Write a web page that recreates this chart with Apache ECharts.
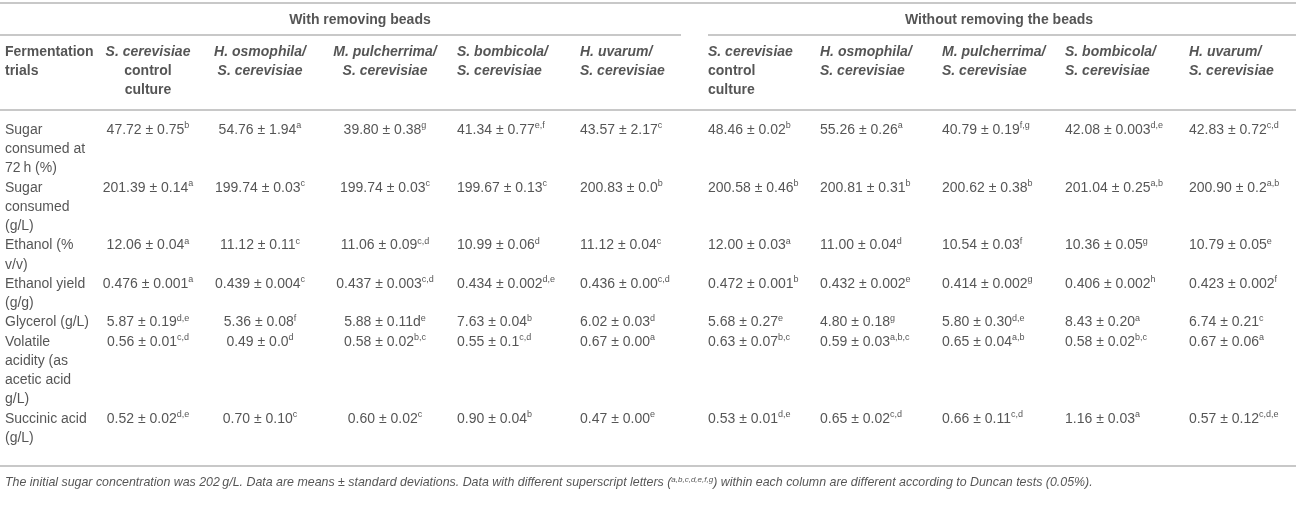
<!DOCTYPE html>
<html>
<head>
<meta charset="utf-8">
<script src="https://cdn.jsdelivr.net/npm/echarts@6/dist/echarts.min.js"></script>
<style>
  html, body { margin: 0; padding: 0; background: #fff; }
  #fermTable { width: 1296px; height: 505px; }
</style>
</head>
<body>
<div id="fermTable"></div>
<script>
// row labels, wrapped the same way as in the printed table
var trialLabels = [
    ['Sugar', 'consumed at', '72\u2009h (%)'],
    ['Sugar', 'consumed', '(g/L)'],
    ['Ethanol (%', 'v/v)'],
    ['Ethanol yield', '(g/g)'],
    ['Glycerol (g/L)'],
    ['Volatile', 'acidity (as', 'acetic acid', 'g/L)'],
    ['Succinic acid', '(g/L)']
];

var groupTitles = ['With removing beads', 'Without removing the beads'];
var cornerHeader = ['Fermentation', 'trials'];

// each header line: [text, italic]
var strainHeaders = [
    [['S. cerevisiae', true], ['control', false], ['culture', false]],
    [['H. osmophila/', true], ['S. cerevisiae', true]],
    [['M. pulcherrima/', true], ['S. cerevisiae', true]],
    [['S. bombicola/', true], ['S. cerevisiae', true]],
    [['H. uvarum/', true], ['S. cerevisiae', true]]
];

// mean ± sd, with removing beads
var removedValues = [
    ['47.72 ± 0.75', '54.76 ± 1.94', '39.80 ± 0.38', '41.34 ± 0.77', '43.57 ± 2.17'],
    ['201.39 ± 0.14', '199.74 ± 0.03', '199.74 ± 0.03', '199.67 ± 0.13', '200.83 ± 0.0'],
    ['12.06 ± 0.04', '11.12 ± 0.11', '11.06 ± 0.09', '10.99 ± 0.06', '11.12 ± 0.04'],
    ['0.476 ± 0.001', '0.439 ± 0.004', '0.437 ± 0.003', '0.434 ± 0.002', '0.436 ± 0.00'],
    ['5.87 ± 0.19', '5.36 ± 0.08', '5.88 ± 0.11d', '7.63 ± 0.04', '6.02 ± 0.03'],
    ['0.56 ± 0.01', '0.49 ± 0.0', '0.58 ± 0.02', '0.55 ± 0.1', '0.67 ± 0.00'],
    ['0.52 ± 0.02', '0.70 ± 0.10', '0.60 ± 0.02', '0.90 ± 0.04', '0.47 ± 0.00']
];
var removedLetters = [
    ['b', 'a', 'g', 'e,f', 'c'],
    ['a', 'c', 'c', 'c', 'b'],
    ['a', 'c', 'c,d', 'd', 'c'],
    ['a', 'c', 'c,d', 'd,e', 'c,d'],
    ['d,e', 'f', 'e', 'b', 'd'],
    ['c,d', 'd', 'b,c', 'c,d', 'a'],
    ['d,e', 'c', 'c', 'b', 'e']
];

// mean ± sd, without removing the beads
var keptValues = [
    ['48.46 ± 0.02', '55.26 ± 0.26', '40.79 ± 0.19', '42.08 ± 0.003', '42.83 ± 0.72'],
    ['200.58 ± 0.46', '200.81 ± 0.31', '200.62 ± 0.38', '201.04 ± 0.25', '200.90 ± 0.2'],
    ['12.00 ± 0.03', '11.00 ± 0.04', '10.54 ± 0.03', '10.36 ± 0.05', '10.79 ± 0.05'],
    ['0.472 ± 0.001', '0.432 ± 0.002', '0.414 ± 0.002', '0.406 ± 0.002', '0.423 ± 0.002'],
    ['5.68 ± 0.27', '4.80 ± 0.18', '5.80 ± 0.30', '8.43 ± 0.20', '6.74 ± 0.21'],
    ['0.63 ± 0.07', '0.59 ± 0.03', '0.65 ± 0.04', '0.58 ± 0.02', '0.67 ± 0.06'],
    ['0.53 ± 0.01', '0.65 ± 0.02', '0.66 ± 0.11', '1.16 ± 0.03', '0.57 ± 0.12']
];
var keptLetters = [
    ['b', 'a', 'f,g', 'd,e', 'c,d'],
    ['b', 'b', 'b', 'a,b', 'a,b'],
    ['a', 'd', 'f', 'g', 'e'],
    ['b', 'e', 'g', 'h', 'f'],
    ['e', 'g', 'd,e', 'a', 'c'],
    ['b,c', 'a,b,c', 'a,b', 'b,c', 'a'],
    ['d,e', 'c,d', 'c,d', 'a', 'c,d,e']
];

var footnoteParts = [
    'The initial sugar concentration was 202\u2009g/L. Data are means ± standard deviations. Data with different superscript letters (',
    'a,b,c,d,e,f,g',
    ') within each column are different according to Duncan tests (0.05%).'
];

// page geometry (pixels in the 1296 x 505 frame)
var W = 1296, H = 505;
var labelX = 5;
var removedCols = [
    { x: 148, align: 'center' }, { x: 260, align: 'center' }, { x: 385, align: 'center' },
    { x: 457, align: 'left' }, { x: 580, align: 'left' }
];
var keptCols = [708, 820, 942, 1065, 1189].map(function (x) { return { x: x, align: 'left' }; });
var titleY = 20, headY = 52, bodyY = 130, lineStep = 19.25, footY = 483;
var ruleYs = { top: 2.5, group: 35, head: 110, bottom: 466 };
var groupCenters = [360, 999];

function cell(x, y, align, text) {
    return { value: [x, y], text: text, label: { align: align } };
}

var cells = [];

groupTitles.forEach(function (t, i) {
    cells.push(cell(groupCenters[i], titleY, 'center', '{t|' + t + '}'));
});

cornerHeader.forEach(function (t, k) {
    cells.push(cell(labelX, headY + k * lineStep, 'left', '{h|' + t + '}'));
});

[removedCols, keptCols].forEach(function (cols) {
    strainHeaders.forEach(function (lines, c) {
        lines.forEach(function (ln, k) {
            cells.push(cell(cols[c].x, headY + k * lineStep, cols[c].align,
                '{' + (ln[1] ? 'hi' : 'h') + '|' + ln[0] + '}'));
        });
    });
});

var lineIdx = 0;
trialLabels.forEach(function (lines, r) {
    var y = bodyY + lineIdx * lineStep;
    lines.forEach(function (ln, k) {
        cells.push(cell(labelX, y + k * lineStep, 'left', '{v|' + ln + '}'));
    });
    [[removedCols, removedValues, removedLetters], [keptCols, keptValues, keptLetters]].forEach(function (g) {
        g[0].forEach(function (col, c) {
            cells.push(cell(col.x, y, col.align, '{v|' + g[1][r][c] + '}{s|' + g[2][r][c] + '}'));
        });
    });
    lineIdx += lines.length;
});

cells.push(cell(labelX, footY, 'left',
    '{f|' + footnoteParts[0] + '}{fs|' + footnoteParts[1] + '}{f|' + footnoteParts[2] + '}'));

var rules = [
    [0, W, ruleYs.top],
    [0, 681, ruleYs.group],
    [708, W, ruleYs.group],
    [0, W, ruleYs.head],
    [0, W, ruleYs.bottom]
];

var font = '"Liberation Sans", Arial, Helvetica, sans-serif';
var ink = '#2b2b2b';

var chart = echarts.init(document.getElementById('fermTable'));
chart.setOption({
    animation: false,
    grid: { left: 0, right: 0, top: 0, bottom: 0 },
    xAxis: { type: 'value', min: 0, max: W, show: false },
    yAxis: { type: 'value', min: 0, max: H, inverse: true, show: false },
    series: [{
        type: 'scatter',
        silent: true,
        symbolSize: 1,
        itemStyle: { color: 'transparent' },
        emphasis: { disabled: true },
        data: cells,
        label: {
            show: true,
            position: 'inside',
            verticalAlign: 'middle',
            formatter: function (p) { return p.data.text; },
            rich: {
                v: { fontFamily: font, fontSize: 14, color: ink, lineHeight: 17 },
                s: { fontFamily: font, fontSize: 9, color: ink, lineHeight: 9, verticalAlign: 'top' },
                h: { fontFamily: font, fontSize: 14, fontWeight: 'bold', color: ink, lineHeight: 17 },
                hi: { fontFamily: font, fontSize: 14, fontWeight: 'bold', fontStyle: 'italic', color: ink, lineHeight: 17 },
                t: { fontFamily: font, fontSize: 14, fontWeight: 'bold', color: ink, lineHeight: 17 },
                f: { fontFamily: font, fontSize: 12.4, fontStyle: 'italic', color: ink, lineHeight: 15 },
                fs: { fontFamily: font, fontSize: 8, fontStyle: 'italic', color: ink, lineHeight: 8, verticalAlign: 'top' }
            }
        },
        markLine: {
            silent: true,
            symbol: ['none', 'none'],
            label: { show: false },
            emphasis: { disabled: true },
            lineStyle: { color: '#c8c8c8', width: 2, type: 'solid' },
            data: rules.map(function (r) {
                return [{ coord: [r[0], r[2]] }, { coord: [r[1], r[2]] }];
            })
        }
    }]
});
</script>
</body>
</html>
